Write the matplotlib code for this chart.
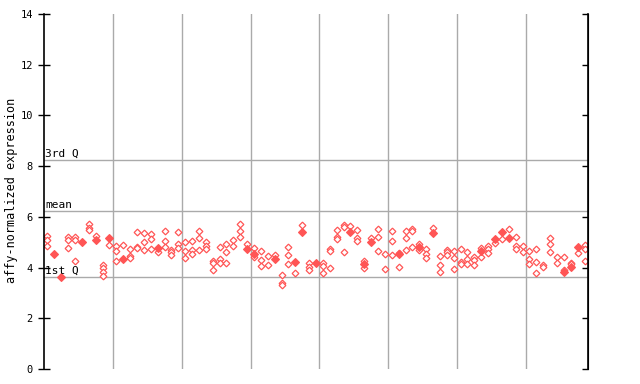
import matplotlib
matplotlib.use("Agg")
import matplotlib.pyplot as plt

# expression values per sample column (hollow diamonds)
col_values = [
    [5.25, 5.1, 4.85], [], [], [5.22, 5.09, 4.76], [5.22, 5.09, 4.26],
    [5.02], [5.70, 5.57, 5.48], [5.26], [4.10, 3.97, 3.81, 3.67], [4.89],
    [4.85, 4.66, 4.25], [4.89], [4.74, 4.44, 4.36], [5.41, 4.82, 4.76], [5.35, 5.0, 4.69],
    [5.32, 5.13, 4.73], [4.60], [5.44, 5.06, 4.82], [4.69, 4.60, 4.50], [5.39, 4.92, 4.76],
    [5.0, 4.65, 4.36], [5.05, 4.69, 4.52], [5.44, 5.15, 4.69], [5.0, 4.86, 4.73], [4.26, 4.17, 3.90],
    [4.80, 4.33, 4.17], [4.92, 4.63, 4.17], [5.09, 4.85], [5.70, 5.44, 5.22], [4.92],
    [4.76, 4.40], [4.65, 4.30, 4.06], [4.46, 4.10], [4.50], [3.71, 3.38, 3.31],
    [4.81, 4.50, 4.13], [3.77], [5.68], [4.17, 4.03, 3.90], [],
    [4.17, 4.07, 3.77], [4.73, 4.65, 3.99], [5.48, 5.22, 5.13], [5.68, 5.60, 4.60], [5.64],
    [5.48, 5.18, 5.05], [4.26, 3.99], [5.15], [5.52, 5.19, 4.65], [4.52, 3.94],
    [5.44, 5.05, 4.50], [4.56, 4.03], [5.44, 5.15, 4.69], [5.52, 5.44, 4.82], [4.92, 4.69],
    [4.73, 4.52, 4.36], [5.55], [4.47, 4.10, 3.81], [4.69, 4.60, 4.50], [4.65, 4.36, 3.94],
    [4.72, 4.23, 4.14], [4.63, 4.33, 4.13], [4.40, 4.30, 4.09], [4.76, 4.43], [4.85, 4.72, 4.59],
    [4.98], [5.11], [5.51], [5.19, 4.86, 4.72], [4.86, 4.63],
    [4.66, 4.33, 4.13], [4.72, 4.21, 3.77], [4.10, 4.01], [5.15, 4.93, 4.63], [4.43, 4.17],
    [4.40, 3.90], [4.19, 4.13], [4.56], [4.89, 4.72, 4.26],
]

# filled diamonds: (column index, value)
filled_cols = [1, 2, 5, 7, 9, 11, 16, 29, 30, 33, 36, 37, 39, 44, 46, 47, 51, 54, 56, 63, 65, 66, 67, 75, 76, 77]
filled_vals = [4.55, 3.64, 5.02, 5.09, 5.15, 4.33, 4.76, 4.73, 4.55, 4.33, 4.23, 5.41, 4.17, 5.41, 4.13, 5.02, 4.52, 4.82, 5.35, 4.66, 5.13, 5.41, 5.18, 3.81, 4.03, 4.82]

stat_names = ["3rd Q", "mean", "1st Q"]
stat_values = [8.24, 6.23, 3.63]

y_ticks = [0, 2, 4, 6, 8, 10, 12, 14]
y_label = "affy-normalized expression"

RED = "#ff5555"
mono = "DejaVu Sans Mono"

fig = plt.figure(figsize=(6.4, 3.84), dpi=100)
ax = fig.add_axes([44 / 640, 1 - 369 / 384, 544 / 640, 355 / 384])

ncols = len(col_values)
ax.set_xlim(0, ncols)
ax.set_ylim(0, 14)

for x in range(10, ncols, 10):
    ax.axvline(x, color="#aaaaaa", lw=1, zorder=1)

for name, v in zip(stat_names, stat_values):
    ax.axhline(v, color="#aaaaaa", lw=1, zorder=1)
    ax.text(0.15, v + 0.04, name, fontsize=8, family=mono, va="bottom", ha="left", zorder=3)

for i, vals in enumerate(col_values):
    if vals:
        ax.plot([i + 0.5] * len(vals), vals, linestyle="none", marker="D", markersize=3.4,
                mfc="white", mec=RED, mew=0.9, zorder=2)

ax.plot([c + 0.5 for c in filled_cols], filled_vals, linestyle="none", marker="D",
        markersize=4, mfc=RED, mec=RED, mew=0.8, zorder=2)

ax.set_yticks(y_ticks)
ax.set_yticklabels([str(t) for t in y_ticks], family=mono, fontsize=7.5)
ax.set_xticks([])
ax.tick_params(axis="y", direction="inout", length=8, width=1, pad=4)
ax.spines["top"].set_visible(False)
ax.spines["bottom"].set_visible(False)
ax.spines["left"].set_linewidth(1.2)
ax.spines["right"].set_linewidth(1.2)

ax2 = ax.twinx()
ax2.set_ylim(0, 14)
ax2.set_yticks(y_ticks)
ax2.set_yticklabels([])
ax2.tick_params(axis="y", direction="in", length=4, width=1)
for s in ["top", "bottom", "left"]:
    ax2.spines[s].set_visible(False)

fig.text(12 / 640, 1 - 190 / 384, y_label, rotation=90, fontsize=8.5, family=mono,
         va="center", ha="center")

fig.savefig("out.png", dpi=100)
